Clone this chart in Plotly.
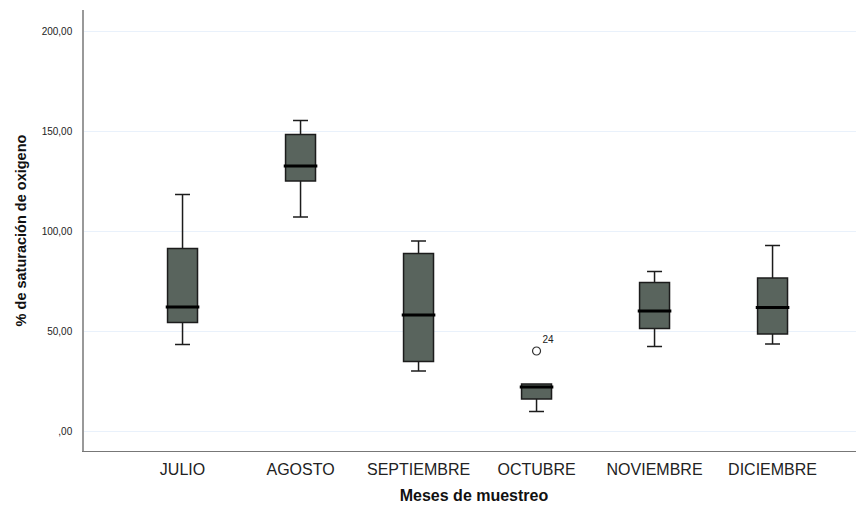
import plotly.graph_objects as go

months = ["JULIO", "AGOSTO", "SEPTIEMBRE", "OCTUBRE", "NOVIEMBRE", "DICIEMBRE"]
lower = [43.3, 107.0, 30.0, 9.7, 42.3, 43.5]
q1 = [54.2, 125.0, 34.7, 16.0, 51.3, 48.5]
median = [62.0, 132.5, 58.0, 22.0, 60.0, 61.7]
q3 = [91.2, 148.2, 88.7, 23.5, 74.3, 76.5]
upper = [118.2, 155.2, 95.0, 23.5, 79.8, 92.7]

outlier_month = ["OCTUBRE"]
outlier_value = [40.0]
outlier_label = ["24"]

y_tickvals = [0, 50, 100, 150, 200]
y_ticktext = [",00", "50,00", "100,00", "150,00", "200,00"]

fig = go.Figure()
fig.add_trace(go.Box(
    x=months, q1=q1, median=median, q3=q3,
    lowerfence=lower, upperfence=upper,
    fillcolor="#59645d",
    line=dict(color="#1c1c1c", width=1.5),
    width=0.254, whiskerwidth=0.5,
    boxpoints=False, showlegend=False, hoverinfo="skip",
))
fig.add_trace(go.Scatter(
    x=months, y=median, mode="markers",
    marker=dict(symbol="line-ew", size=24, line=dict(color="black", width=3)),
    showlegend=False, hoverinfo="skip",
))
fig.add_trace(go.Scatter(
    x=outlier_month, y=outlier_value, mode="markers+text",
    marker=dict(symbol="circle-open", size=8, color="#333", line=dict(width=1.2)),
    text=outlier_label, textposition="top right",
    textfont=dict(family="Liberation Sans, Arial", size=10, color="#222"),
    showlegend=False, hoverinfo="skip",
))

fig.update_layout(
    width=856, height=509,
    margin=dict(l=76, r=0, t=2, b=66),
    paper_bgcolor="white", plot_bgcolor="white",
    font=dict(family="Liberation Sans, Arial", color="#222"),
)
fig.update_xaxes(
    type="category", range=[-0.835, 5.775],
    showline=True, linecolor="#777", linewidth=1.2,
    showgrid=False, ticks="", tickfont=dict(size=16, color="#222"),
    ticklabelstandoff=4,
    title=dict(text="<b>Meses de muestreo</b>", font=dict(size=16, color="#111"), standoff=12),
)
fig.update_yaxes(
    range=[-10, 210.5], tickvals=y_tickvals, ticktext=y_ticktext,
    showline=True, linecolor="#999", linewidth=1.5,
    showgrid=True, gridcolor="#e9f1fb", gridwidth=1, zeroline=False,
    ticks="", tickfont=dict(size=10, color="#222"), ticklabelstandoff=8,
    title=dict(text="<b>% de saturación de oxigeno</b>", font=dict(size=14.5, color="#111"), standoff=12),
)

fig.write_html("out.html")
